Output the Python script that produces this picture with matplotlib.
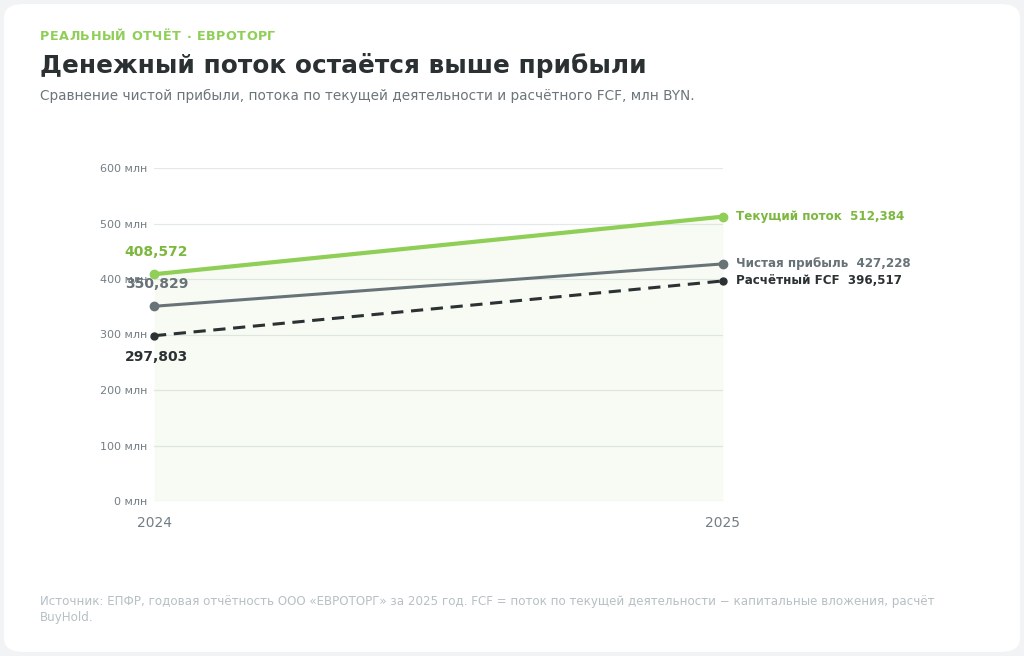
import matplotlib.pyplot as plt
from matplotlib.patches import FancyBboxPatch
from matplotlib.ticker import FuncFormatter

# --- DATA ---
years = [2024, 2025]
operating_cf = [408.572, 512.384]
net_profit = [350.829, 427.228]
fcf = [297.803, 396.517]
y_ticks = [0, 100, 200, 300, 400, 500, 600]

GREEN = '#8fce57'
GREEN_TXT = '#7cb83f'
GREY = '#687378'
DARK = '#2c3133'
TICK = '#737e84'

plt.rcParams['font.family'] = ['DejaVu Sans']

fig = plt.figure(figsize=(10.24, 6.56), dpi=100)
fig.patch.set_facecolor('#f1f3f4')

# white card (behind everything)
card = FancyBboxPatch((0.004, 0.006), 0.992, 0.988, boxstyle='round,pad=0,rounding_size=0.02',
                      transform=fig.transFigure, facecolor='white', edgecolor='none', zorder=-10)
fig.patches.append(card)

# --- HEADER ---
# kicker with letter spacing: place each char at the advance of its prefix
kicker = 'РЕАЛЬНЫЙ ОТЧЁТ · ЕВРОТОРГ'
renderer = fig.canvas.get_renderer()
probe = fig.text(0, 0, '', fontsize=9.2, fontweight='bold')

def adv(s):
    probe.set_text(s + 'I')
    w1 = probe.get_window_extent(renderer).width
    probe.set_text('I')
    return w1 - probe.get_window_extent(renderer).width

for i, ch in enumerate(kicker):
    if ch == ' ':
        continue
    x_px = 40 + (adv(kicker[:i]) if i else 0) + i * 0.5
    fig.text(x_px / 1024, 1 - 37 / 656, ch, color=GREEN, fontsize=9.2,
             fontweight='bold', va='center', ha='left')
probe.remove()

fig.text(40 / 1024, 1 - 65 / 656, 'Денежный поток остаётся выше прибыли', color='#2b3133',
         fontsize=17.85, fontweight='bold', va='center', ha='left')
fig.text(40 / 1024, 1 - 96 / 656,
         'Сравнение чистой прибыли, потока по текущей деятельности и расчётного FCF, млн BYN.',
         color='#6b757a', fontsize=9.85, va='center', ha='left')

# --- AXES ---
ax = fig.add_axes([154 / 1024, 1 - 501 / 656, (723 - 154) / 1024, (501 - 168) / 656])
ax.set_xlim(years[0], years[1])
ax.set_ylim(0, 600)

ax.fill_between(years, operating_cf, 0, color=GREEN, alpha=0.07, linewidth=0, zorder=1)

ax.plot(years, operating_cf, color=GREEN, lw=3, marker='o', ms=6, zorder=4, clip_on=False)
ax.plot(years, net_profit, color=GREY, lw=2.2, marker='o', ms=6, zorder=3, clip_on=False)
ax.plot(years, fcf, color=DARK, lw=2.2, ls=(0, (4, 2.5)), marker='o', ms=5, zorder=3, clip_on=False)

ax.set_yticks(y_ticks)
ax.yaxis.set_major_formatter(FuncFormatter(lambda v, p: f'{int(v)} млн'))
ax.set_xticks(years)
ax.set_xticklabels([str(y) for y in years])
ax.tick_params(axis='y', length=0, labelsize=8, labelcolor=TICK, pad=5)
ax.tick_params(axis='x', length=0, labelsize=10, labelcolor=TICK, pad=11)
ax.grid(axis='y', color='#e3e8ea', lw=0.9)
ax.set_axisbelow(True)
for s in ax.spines.values():
    s.set_visible(False)

# left value labels
def fmt(v):
    return f'{v * 1000:,.0f}'

ax.annotate(fmt(operating_cf[0]), (years[0], operating_cf[0]), xytext=(-21, 16), textcoords='offset points',
            color=GREEN_TXT, fontsize=10, fontweight='bold', va='center', ha='left')
ax.annotate(fmt(net_profit[0]), (years[0], net_profit[0]), xytext=(-21, 16), textcoords='offset points',
            color=GREY, fontsize=10, fontweight='bold', va='center', ha='left')
ax.annotate(fmt(fcf[0]), (years[0], fcf[0]), xytext=(-21, -15.5), textcoords='offset points',
            color=DARK, fontsize=10, fontweight='bold', va='center', ha='left')

# right labels
ax.annotate(f'Текущий поток  {fmt(operating_cf[1])}', (years[1], operating_cf[1]), xytext=(9.5, 0),
            textcoords='offset points', color=GREEN_TXT, fontsize=8.6, fontweight='bold',
            va='center', ha='left', annotation_clip=False)
ax.annotate(f'Чистая прибыль  {fmt(net_profit[1])}', (years[1], net_profit[1]), xytext=(9.5, 0),
            textcoords='offset points', color=GREY, fontsize=8.6, fontweight='bold',
            va='center', ha='left', annotation_clip=False)
ax.annotate(f'Расчётный FCF  {fmt(fcf[1])}', (years[1], fcf[1]), xytext=(9.5, 0),
            textcoords='offset points', color=DARK, fontsize=8.6, fontweight='bold',
            va='center', ha='left', annotation_clip=False)

# --- FOOTER ---
fig.text(40 / 1024, 1 - 601 / 656,
         'Источник: ЕПФР, годовая отчётность ООО «ЕВРОТОРГ» за 2025 год. FCF = поток по текущей '
         'деятельности − капитальные вложения, расчёт', color='#b7c0c4', fontsize=8.55,
         va='center', ha='left')
fig.text(40 / 1024, 1 - 618 / 656, 'BuyHold.', color='#b7c0c4', fontsize=8.55, va='center', ha='left')

fig.savefig('out.png', dpi=100, facecolor=fig.get_facecolor())
